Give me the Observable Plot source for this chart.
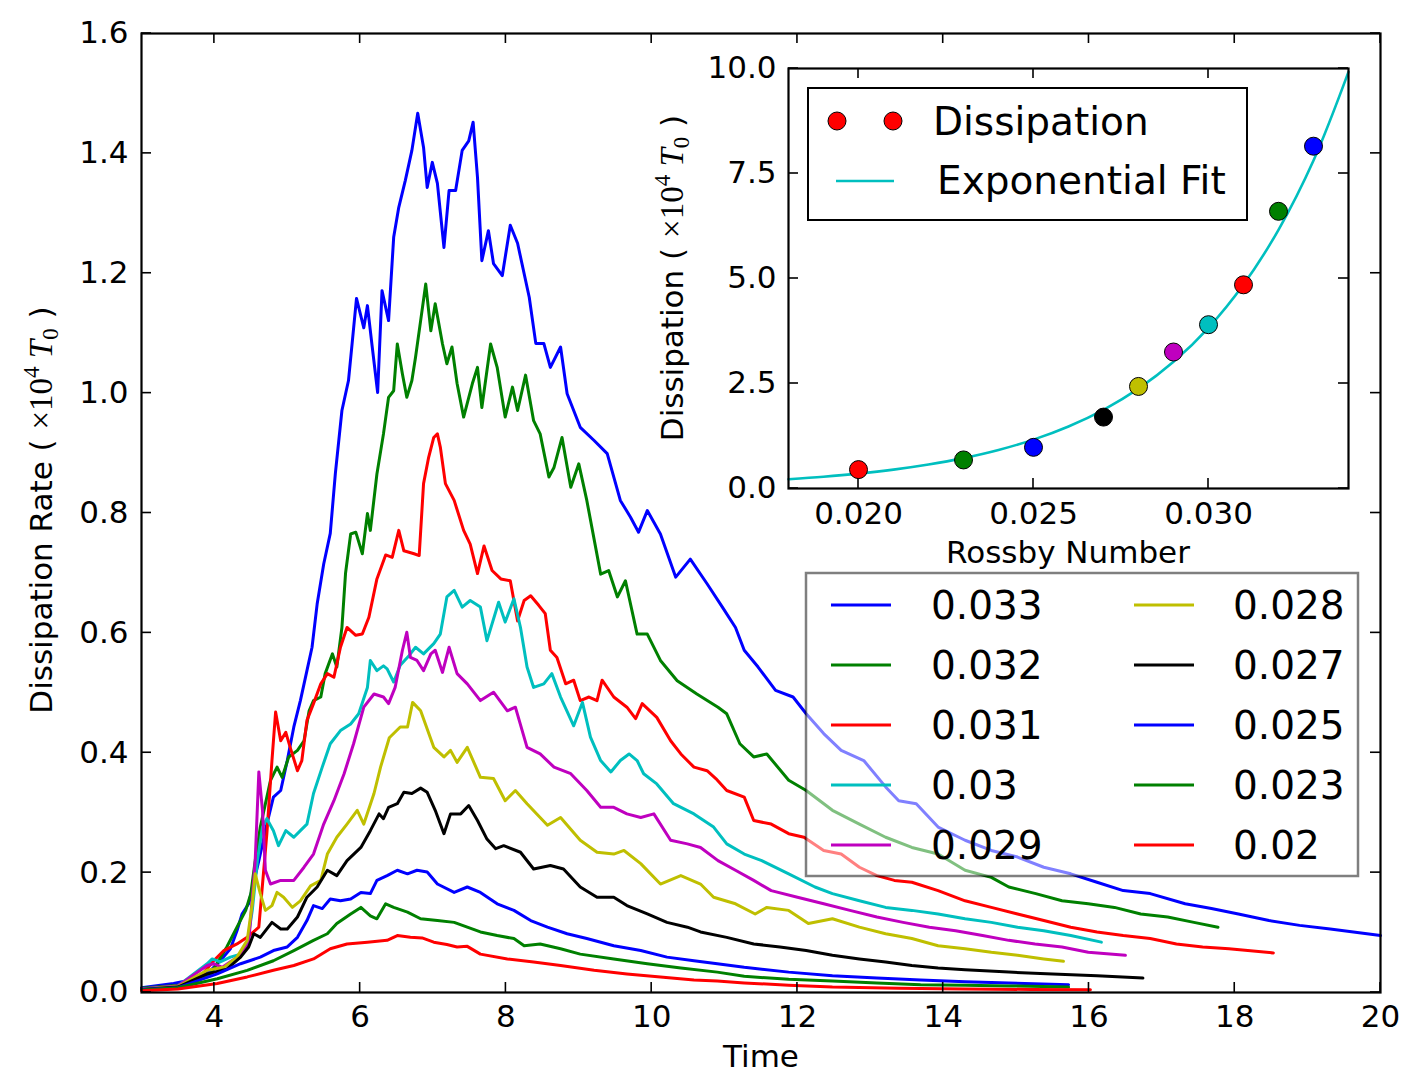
<!DOCTYPE html>
<html><head><meta charset="utf-8">
<script src="https://cdn.jsdelivr.net/npm/d3@7"></script>
<script src="https://cdn.jsdelivr.net/npm/@observablehq/plot@0.6"></script>
<style>
body{margin:0;background:#fff;}
#wrap{position:relative;width:1418px;height:1088px;overflow:hidden;}
#inset{position:absolute;left:640px;top:40px;}
</style></head><body><div id="wrap"><div id="main"></div><div id="inset"></div></div>
<script>
// ---------- main chart data: [time, dissipation rate] ----------
const d033 = [[3.0,0.008],[3.44,0.015],[3.76,0.023],[3.95,0.037],[4.08,0.053],[4.22,0.073],[4.31,0.103],[4.38,0.131],[4.47,0.148],[4.61,0.22],[4.72,0.281],[4.81,0.326],[4.91,0.337],[5.0,0.387],[5.09,0.443],[5.18,0.487],[5.27,0.537],[5.34,0.576],[5.41,0.648],[5.50,0.715],[5.59,0.766],[5.66,0.866],[5.75,0.971],[5.84,1.021],[5.89,1.083],[5.95,1.158],[6.05,1.109],[6.10,1.146],[6.16,1.083],[6.24,1.001],[6.30,1.171],[6.39,1.121],[6.46,1.26],[6.53,1.31],[6.62,1.355],[6.71,1.405],[6.79,1.467],[6.87,1.41],[6.92,1.343],[6.99,1.385],[7.06,1.35],[7.15,1.243],[7.22,1.338],[7.31,1.338],[7.40,1.405],[7.49,1.421],[7.55,1.452],[7.61,1.36],[7.67,1.221],[7.76,1.271],[7.83,1.216],[7.95,1.196],[8.06,1.28],[8.16,1.25],[8.32,1.16],[8.41,1.083],[8.52,1.083],[8.61,1.043],[8.75,1.077],[8.84,0.999],[9.02,0.943],[9.21,0.921],[9.39,0.899],[9.57,0.821],[9.71,0.793],[9.82,0.768],[9.94,0.804],[10.12,0.765],[10.33,0.693],[10.53,0.723],[10.76,0.682],[10.97,0.643],[11.15,0.609],[11.27,0.571],[11.46,0.543],[11.70,0.504],[11.94,0.493],[12.12,0.465],[12.36,0.432],[12.60,0.404],[12.91,0.387],[13.21,0.343],[13.39,0.32],[13.63,0.315],[13.93,0.276],[14.30,0.254],[14.66,0.237],[15.02,0.226],[15.38,0.209],[15.75,0.198],[16.11,0.184],[16.47,0.17],[16.84,0.165],[17.32,0.148],[17.68,0.14],[18.05,0.131],[18.47,0.12],[18.89,0.112],[19.31,0.106],[20.0,0.095]];
const d032 = [[3.0,0.007],[3.5,0.012],[3.95,0.031],[4.17,0.076],[4.31,0.109],[4.43,0.137],[4.50,0.165],[4.56,0.22],[4.63,0.276],[4.77,0.354],[4.86,0.376],[4.93,0.359],[5.02,0.393],[5.14,0.404],[5.23,0.42],[5.30,0.47],[5.36,0.487],[5.46,0.493],[5.52,0.532],[5.62,0.565],[5.68,0.543],[5.75,0.609],[5.80,0.70],[5.87,0.765],[5.94,0.768],[6.03,0.732],[6.10,0.799],[6.14,0.771],[6.23,0.865],[6.32,0.932],[6.39,0.993],[6.46,1.004],[6.51,1.082],[6.58,1.032],[6.64,0.993],[6.71,1.021],[6.76,1.06],[6.83,1.121],[6.90,1.182],[6.97,1.104],[7.03,1.149],[7.13,1.082],[7.19,1.049],[7.26,1.077],[7.33,1.016],[7.42,0.96],[7.54,1.016],[7.61,1.043],[7.67,0.976],[7.79,1.082],[7.88,1.043],[7.99,0.96],[8.09,1.01],[8.16,0.971],[8.27,1.03],[8.38,0.954],[8.47,0.932],[8.59,0.86],[8.66,0.876],[8.77,0.926],[8.89,0.843],[9.0,0.882],[9.11,0.821],[9.30,0.698],[9.41,0.704],[9.53,0.66],[9.64,0.687],[9.80,0.598],[9.94,0.598],[10.12,0.554],[10.35,0.52],[10.62,0.498],[10.91,0.476],[11.03,0.465],[11.21,0.415],[11.40,0.393],[11.58,0.398],[11.88,0.354],[12.12,0.337],[12.48,0.304],[12.85,0.281],[13.21,0.259],[13.57,0.242],[13.93,0.231],[14.30,0.204],[14.66,0.192],[14.90,0.176],[15.27,0.165],[15.63,0.153],[15.99,0.148],[16.35,0.142],[16.71,0.131],[17.08,0.126],[17.44,0.117],[17.77,0.109]];
const d031 = [[3.0,0.006],[3.5,0.011],[3.8,0.025],[3.99,0.053],[4.13,0.07],[4.31,0.081],[4.45,0.092],[4.61,0.109],[4.72,0.265],[4.79,0.387],[4.84,0.468],[4.91,0.42],[4.98,0.434],[5.04,0.409],[5.14,0.37],[5.20,0.387],[5.27,0.454],[5.36,0.482],[5.46,0.515],[5.55,0.532],[5.64,0.526],[5.73,0.576],[5.82,0.609],[5.94,0.596],[6.03,0.598],[6.12,0.626],[6.23,0.690],[6.35,0.73],[6.44,0.726],[6.53,0.771],[6.60,0.737],[6.74,0.732],[6.81,0.729],[6.87,0.849],[6.94,0.893],[7.01,0.926],[7.06,0.932],[7.10,0.91],[7.17,0.849],[7.29,0.821],[7.42,0.771],[7.51,0.748],[7.61,0.699],[7.70,0.745],[7.81,0.704],[7.93,0.69],[8.06,0.687],[8.16,0.62],[8.25,0.654],[8.34,0.662],[8.45,0.646],[8.54,0.632],[8.61,0.571],[8.70,0.559],[8.82,0.515],[8.93,0.521],[9.02,0.487],[9.14,0.493],[9.25,0.487],[9.32,0.521],[9.48,0.493],[9.66,0.476],[9.78,0.457],[9.87,0.482],[10.07,0.459],[10.26,0.42],[10.40,0.398],[10.58,0.376],[10.76,0.37],[10.88,0.357],[11.03,0.337],[11.27,0.326],[11.40,0.287],[11.64,0.281],[11.88,0.265],[12.09,0.259],[12.36,0.237],[12.60,0.231],[12.85,0.209],[13.09,0.195],[13.33,0.187],[13.57,0.184],[13.93,0.17],[14.30,0.153],[14.66,0.142],[15.02,0.131],[15.38,0.12],[15.75,0.109],[16.11,0.101],[16.47,0.095],[16.84,0.09],[17.20,0.081],[17.56,0.076],[17.92,0.073],[18.53,0.066]];
const d030 = [[3.0,0.006],[3.5,0.011],[3.90,0.048],[3.97,0.056],[4.08,0.051],[4.22,0.059],[4.36,0.064],[4.45,0.081],[4.52,0.137],[4.59,0.22],[4.66,0.276],[4.72,0.29],[4.81,0.27],[4.88,0.245],[4.98,0.27],[5.09,0.259],[5.18,0.27],[5.27,0.281],[5.36,0.332],[5.48,0.376],[5.59,0.415],[5.73,0.437],[5.87,0.448],[5.98,0.465],[6.10,0.509],[6.14,0.554],[6.23,0.537],[6.32,0.545],[6.37,0.54],[6.46,0.518],[6.55,0.546],[6.67,0.562],[6.76,0.576],[6.87,0.565],[7.01,0.582],[7.10,0.598],[7.19,0.66],[7.29,0.671],[7.40,0.643],[7.51,0.654],[7.65,0.643],[7.74,0.587],[7.90,0.651],[7.99,0.618],[8.11,0.657],[8.20,0.609],[8.29,0.543],[8.38,0.509],[8.52,0.515],[8.63,0.532],[8.75,0.493],[8.93,0.445],[9.05,0.484],[9.16,0.426],[9.30,0.387],[9.44,0.368],[9.57,0.387],[9.69,0.398],[9.80,0.387],[9.89,0.365],[10.07,0.348],[10.30,0.315],[10.58,0.298],[10.85,0.276],[11.03,0.248],[11.27,0.231],[11.51,0.22],[11.88,0.198],[12.24,0.176],[12.48,0.165],[12.85,0.153],[13.21,0.142],[13.57,0.137],[13.93,0.131],[14.30,0.123],[14.66,0.117],[15.02,0.109],[15.38,0.103],[15.75,0.095],[16.17,0.084]];
const d029 = [[3.0,0.006],[3.5,0.011],[3.90,0.045],[3.99,0.048],[4.11,0.042],[4.24,0.053],[4.36,0.062],[4.47,0.081],[4.56,0.22],[4.61,0.368],[4.66,0.304],[4.70,0.204],[4.77,0.181],[4.91,0.187],[5.09,0.187],[5.23,0.209],[5.36,0.231],[5.50,0.281],[5.64,0.32],[5.78,0.365],[5.91,0.415],[6.05,0.476],[6.19,0.498],[6.32,0.493],[6.39,0.482],[6.48,0.509],[6.58,0.571],[6.64,0.601],[6.69,0.559],[6.78,0.554],[6.87,0.537],[6.97,0.565],[7.03,0.571],[7.13,0.534],[7.22,0.576],[7.33,0.532],[7.47,0.515],[7.65,0.487],[7.83,0.501],[8.02,0.47],[8.13,0.476],[8.29,0.409],[8.47,0.398],[8.66,0.376],[8.89,0.365],[9.11,0.337],[9.30,0.309],[9.48,0.309],[9.66,0.298],[9.85,0.292],[10.03,0.298],[10.26,0.254],[10.49,0.248],[10.67,0.242],[10.91,0.22],[11.15,0.204],[11.40,0.187],[11.64,0.17],[12.0,0.159],[12.36,0.148],[12.72,0.137],[13.09,0.126],[13.45,0.117],[13.81,0.109],[14.17,0.103],[14.54,0.095],[14.90,0.087],[15.26,0.081],[15.63,0.076],[15.99,0.067],[16.50,0.062]];
const d028 = [[3.0,0.005],[3.5,0.01],[3.90,0.037],[4.13,0.042],[4.31,0.059],[4.45,0.087],[4.52,0.148],[4.56,0.198],[4.63,0.165],[4.70,0.137],[4.79,0.145],[4.86,0.167],[4.95,0.159],[5.07,0.142],[5.18,0.153],[5.32,0.178],[5.46,0.187],[5.55,0.231],[5.68,0.259],[5.82,0.281],[5.96,0.304],[6.05,0.281],[6.19,0.332],[6.28,0.376],[6.40,0.425],[6.55,0.443],[6.65,0.443],[6.72,0.484],[6.83,0.47],[7.01,0.409],[7.15,0.393],[7.24,0.404],[7.33,0.384],[7.47,0.409],[7.65,0.359],[7.83,0.357],[7.99,0.32],[8.13,0.337],[8.29,0.315],[8.57,0.279],[8.75,0.292],[9.02,0.254],[9.25,0.234],[9.48,0.231],[9.62,0.237],[9.85,0.215],[10.12,0.181],[10.40,0.195],[10.67,0.181],[10.85,0.159],[11.15,0.148],[11.42,0.131],[11.58,0.142],[11.88,0.137],[12.15,0.115],[12.48,0.123],[12.85,0.109],[13.21,0.098],[13.57,0.09],[13.93,0.078],[14.30,0.073],[14.66,0.067],[15.02,0.062],[15.38,0.056],[15.65,0.052]];
const d027 = [[3.0,0.005],[3.5,0.009],[3.90,0.031],[4.17,0.039],[4.36,0.059],[4.47,0.076],[4.54,0.098],[4.63,0.092],[4.79,0.117],[4.91,0.106],[5.0,0.106],[5.14,0.126],[5.27,0.159],[5.41,0.176],[5.55,0.204],[5.68,0.195],[5.82,0.22],[6.01,0.242],[6.14,0.27],[6.26,0.298],[6.32,0.29],[6.39,0.309],[6.51,0.315],[6.60,0.334],[6.71,0.332],[6.83,0.341],[6.92,0.334],[7.03,0.304],[7.15,0.265],[7.24,0.298],[7.38,0.298],[7.49,0.312],[7.61,0.287],[7.74,0.256],[7.86,0.24],[7.97,0.245],[8.20,0.234],[8.38,0.206],[8.61,0.212],[8.79,0.206],[9.02,0.176],[9.25,0.159],[9.48,0.159],[9.66,0.145],[9.94,0.131],[10.21,0.117],[10.49,0.109],[10.67,0.101],[11.03,0.092],[11.40,0.081],[11.76,0.076],[12.12,0.07],[12.48,0.062],[12.85,0.056],[13.21,0.051],[13.57,0.045],[13.93,0.041],[14.30,0.038],[14.90,0.034],[15.50,0.031],[16.11,0.028],[16.74,0.024]];
const d025 = [[3.0,0.005],[3.5,0.008],[4.04,0.031],[4.36,0.048],[4.63,0.059],[4.81,0.07],[5.0,0.076],[5.14,0.092],[5.27,0.12],[5.36,0.145],[5.48,0.14],[5.59,0.156],[5.73,0.153],[5.87,0.156],[6.01,0.167],[6.14,0.165],[6.23,0.187],[6.37,0.195],[6.51,0.204],[6.65,0.198],[6.78,0.204],[6.92,0.201],[7.06,0.181],[7.29,0.167],[7.47,0.176],[7.65,0.167],[7.88,0.148],[8.11,0.137],[8.34,0.12],[8.57,0.109],[8.84,0.098],[9.11,0.09],[9.48,0.078],[9.85,0.07],[10.21,0.059],[10.58,0.053],[10.90,0.048],[11.27,0.042],[11.88,0.034],[12.48,0.028],[13.09,0.024],[13.69,0.021],[14.30,0.018],[14.90,0.016],[15.72,0.013]];
const d023 = [[3.0,0.004],[3.5,0.008],[4.04,0.023],[4.45,0.037],[4.81,0.053],[5.09,0.07],[5.36,0.087],[5.55,0.098],[5.68,0.115],[5.87,0.131],[6.01,0.142],[6.14,0.128],[6.23,0.123],[6.35,0.148],[6.46,0.142],[6.65,0.134],[6.83,0.123],[7.06,0.12],[7.29,0.117],[7.47,0.109],[7.65,0.101],[7.88,0.095],[8.11,0.09],[8.25,0.078],[8.47,0.081],[8.75,0.073],[9.02,0.064],[9.48,0.056],[9.94,0.048],[10.40,0.041],[10.90,0.034],[11.27,0.027],[11.88,0.022],[12.48,0.019],[13.09,0.016],[13.69,0.013],[14.30,0.012],[14.90,0.011],[15.72,0.009]];
const d020 = [[3.0,0.003],[3.5,0.006],[4.04,0.015],[4.45,0.026],[4.81,0.037],[5.09,0.045],[5.36,0.056],[5.59,0.073],[5.82,0.081],[6.10,0.084],[6.37,0.087],[6.51,0.095],[6.69,0.092],[6.85,0.091],[7.01,0.084],[7.19,0.08],[7.33,0.076],[7.47,0.077],[7.65,0.064],[8.02,0.056],[8.38,0.051],[8.75,0.045],[9.21,0.037],[9.66,0.031],[10.12,0.026],[10.58,0.021],[10.90,0.019],[11.27,0.016],[11.88,0.012],[12.48,0.009],[13.39,0.007],[14.30,0.006],[15.2,0.005],[16.02,0.0045]];

const seriesLabels = ["0.033","0.032","0.031","0.03","0.029","0.028","0.027","0.025","0.023","0.02"];
const seriesData = [d033,d032,d031,d030,d029,d028,d027,d025,d023,d020];
const seriesColors = ["#0000ff","#008000","#ff0000","#00bfbf","#bf00bf","#bfbf00","#000000","#0000ff","#008000","#ff0000"];

const xTicks = [4,6,8,10,12,14,16,18,20];
const yTicks = [0,0.2,0.4,0.6,0.8,1.0,1.2,1.4,1.6];

// ---------- inset data ----------
const rossby = [0.020,0.023,0.025,0.027,0.028,0.029,0.030,0.031,0.032,0.033];
const dissipation = [0.45,0.68,0.98,1.70,2.43,3.25,3.90,4.85,6.60,8.15];
const pointColors = ["#ff0000","#008000","#0000ff","#000000","#bfbf00","#bf00bf","#00bfbf","#ff0000","#008000","#0000ff"];
const fitX = [0.018,0.019,0.020,0.021,0.022,0.023,0.024,0.025,0.026,0.027,0.028,0.029,0.030,0.031,0.032,0.033,0.034];
const fitY = [0.22,0.279,0.354,0.449,0.570,0.723,0.917,1.164,1.477,1.874,2.377,3.016,3.826,4.855,6.16,7.81,9.92];
const insetXTicks = [0.020,0.025,0.030];
const insetYTicks = [0,2.5,5,7.5,10];

const FONT = "DejaVu Sans";
const SERIF = "Liberation Serif";

function innerTicks(chart, xt, yt, len) {
  const sx = chart.scale("x"), sy = chart.scale("y");
  const [yb, yt0] = sy.range;
  const [xl, xr] = sx.range;
  const g = d3.select(chart).append("g").attr("stroke","black").attr("stroke-width",1.6);
  xt.forEach(v => {
    const x = sx.apply(v);
    g.append("line").attr("x1",x).attr("x2",x).attr("y1",yb).attr("y2",yb-len);
    g.append("line").attr("x1",x).attr("x2",x).attr("y1",yt0).attr("y2",yt0+len);
  });
  yt.forEach(v => {
    const y = sy.apply(v);
    g.append("line").attr("y1",y).attr("y2",y).attr("x1",xl).attr("x2",xl+len);
    g.append("line").attr("y1",y).attr("y2",y).attr("x1",xr).attr("x2",xr-len);
  });
}

function mathLabel(sel, prefix, x, y) {
  const t = sel.append("text").attr("transform",`translate(${x},${y}) rotate(-90)`)
    .attr("text-anchor","middle").attr("font-family",FONT).attr("font-size",31).attr("fill","black");
  t.append("tspan").text(prefix + "( ");
  t.append("tspan").attr("font-family",SERIF).attr("font-size",33).text("\u00d710");
  t.append("tspan").attr("font-family",SERIF).attr("font-size",23).attr("dy",-13).text("4");
  t.append("tspan").attr("font-family",SERIF).attr("font-size",33).attr("font-style","italic").attr("dy",13).text(" T");
  t.append("tspan").attr("font-family",SERIF).attr("font-size",23).attr("dy",6).text("0");
  t.append("tspan").attr("dy",-6).text(" )");
}

// ---------- main chart ----------
const main = Plot.plot({
  width: 1418, height: 1088,
  marginLeft: 141, marginRight: 38, marginTop: 33, marginBottom: 96,
  x: {domain: [3, 20], label: null},
  y: {domain: [0, 1.6], label: null},
  style: {fontFamily: FONT, fontSize: "31px", color: "black", background: "white", overflow: "visible"},
  marks: [
    ...seriesData.map((s, i) => Plot.line(s, {x: d => d[0], y: d => d[1], stroke: seriesColors[i], strokeWidth: 3})),
    Plot.frame({stroke: "black", strokeWidth: 2.2}),
    Plot.axisX({ticks: xTicks, tickSize: 0, tickPadding: 12, tickFormat: d => String(d), label: null}),
    Plot.axisY({ticks: yTicks, tickSize: 0, tickPadding: 13, tickFormat: d3.format(".1f"), label: null})
  ]
});
document.getElementById("main").append(main);
innerTicks(main, xTicks, yTicks, 10);

const ms = d3.select(main);
ms.append("text").attr("x", 761).attr("y", 1067).attr("text-anchor","middle")
  .attr("font-family",FONT).attr("font-size",31).attr("fill","black").text("Time");
mathLabel(ms, "Dissipation Rate ", 52, 510);

// main legend (semi-transparent, two columns)
const lg = ms.append("g").attr("text-anchor","start");
lg.append("rect").attr("x",806).attr("y",573).attr("width",552).attr("height",303)
  .attr("fill","white").attr("fill-opacity",0.5).attr("stroke","black").attr("stroke-opacity",0.5).attr("stroke-width",2.5);
seriesLabels.forEach((lab, i) => {
  const col = Math.floor(i / 5), row = i % 5;
  const cy = 605 + row * 60;
  const lx = col === 0 ? 831 : 1134;
  const tx = col === 0 ? 931 : 1233;
  lg.append("line").attr("x1",lx).attr("x2",lx+60).attr("y1",cy).attr("y2",cy)
    .attr("stroke",seriesColors[i]).attr("stroke-width",3);
  lg.append("text").attr("x",tx).attr("y",cy+14).attr("text-anchor","start").attr("font-family",FONT).attr("font-size",39)
    .attr("fill","black").text(lab);
});

// ---------- inset ----------
const pts = rossby.map((r, i) => ({r, d: dissipation[i], c: pointColors[i]}));
const fit = fitX.map((x, i) => ({x, y: fitY[i]}));
const inset = Plot.plot({
  width: 740, height: 540,
  marginLeft: 148, marginRight: 32, marginTop: 28, marginBottom: 92,
  x: {domain: [0.018, 0.034], label: null},
  y: {domain: [0, 10], label: null},
  color: {type: "identity"},
  style: {fontFamily: FONT, fontSize: "31px", color: "black", background: "transparent", overflow: "visible"},
  marks: [
    Plot.frame({fill: "white", stroke: "none"}),
    Plot.line(fit, {x: "x", y: "y", stroke: "#00bfbf", strokeWidth: 2.6, curve: "catmull-rom"}),
    Plot.dot(pts, {x: "r", y: "d", r: 9, fill: "c", stroke: "black", strokeWidth: 1}),
    Plot.frame({stroke: "black", strokeWidth: 2.2}),
    Plot.axisX({ticks: insetXTicks, tickSize: 0, tickPadding: 13, tickFormat: d3.format(".3f"), label: null}),
    Plot.axisY({ticks: insetYTicks, tickSize: 0, tickPadding: 12, tickFormat: d3.format(".1f"), label: null})
  ]
});
document.getElementById("inset").append(inset);
innerTicks(inset, insetXTicks, insetYTicks, 10);
const is = d3.select(inset);
is.append("text").attr("x", 428).attr("y", 523).attr("text-anchor","middle")
  .attr("font-family",FONT).attr("font-size",31).attr("fill","black").text("Rossby Number");
mathLabel(is, "Dissipation ", 43, 238);

// inset legend
const il = is.append("g").attr("text-anchor","start");
il.append("rect").attr("x",168).attr("y",48).attr("width",439).attr("height",132)
  .attr("fill","white").attr("stroke","black").attr("stroke-width",2);
[197, 253].forEach(cx => il.append("circle").attr("cx",cx).attr("cy",81).attr("r",9)
  .attr("fill","#ff0000").attr("stroke","black").attr("stroke-width",1));
il.append("text").attr("x",293).attr("y",95).attr("text-anchor","start").attr("font-family",FONT).attr("font-size",39).attr("fill","black").text("Dissipation");
il.append("line").attr("x1",196).attr("x2",254).attr("y1",141).attr("y2",141).attr("stroke","#00bfbf").attr("stroke-width",2.6);
il.append("text").attr("x",297).attr("y",154).attr("text-anchor","start").attr("font-family",FONT).attr("font-size",39).attr("fill","black").text("Exponential Fit");
</script></body></html>
